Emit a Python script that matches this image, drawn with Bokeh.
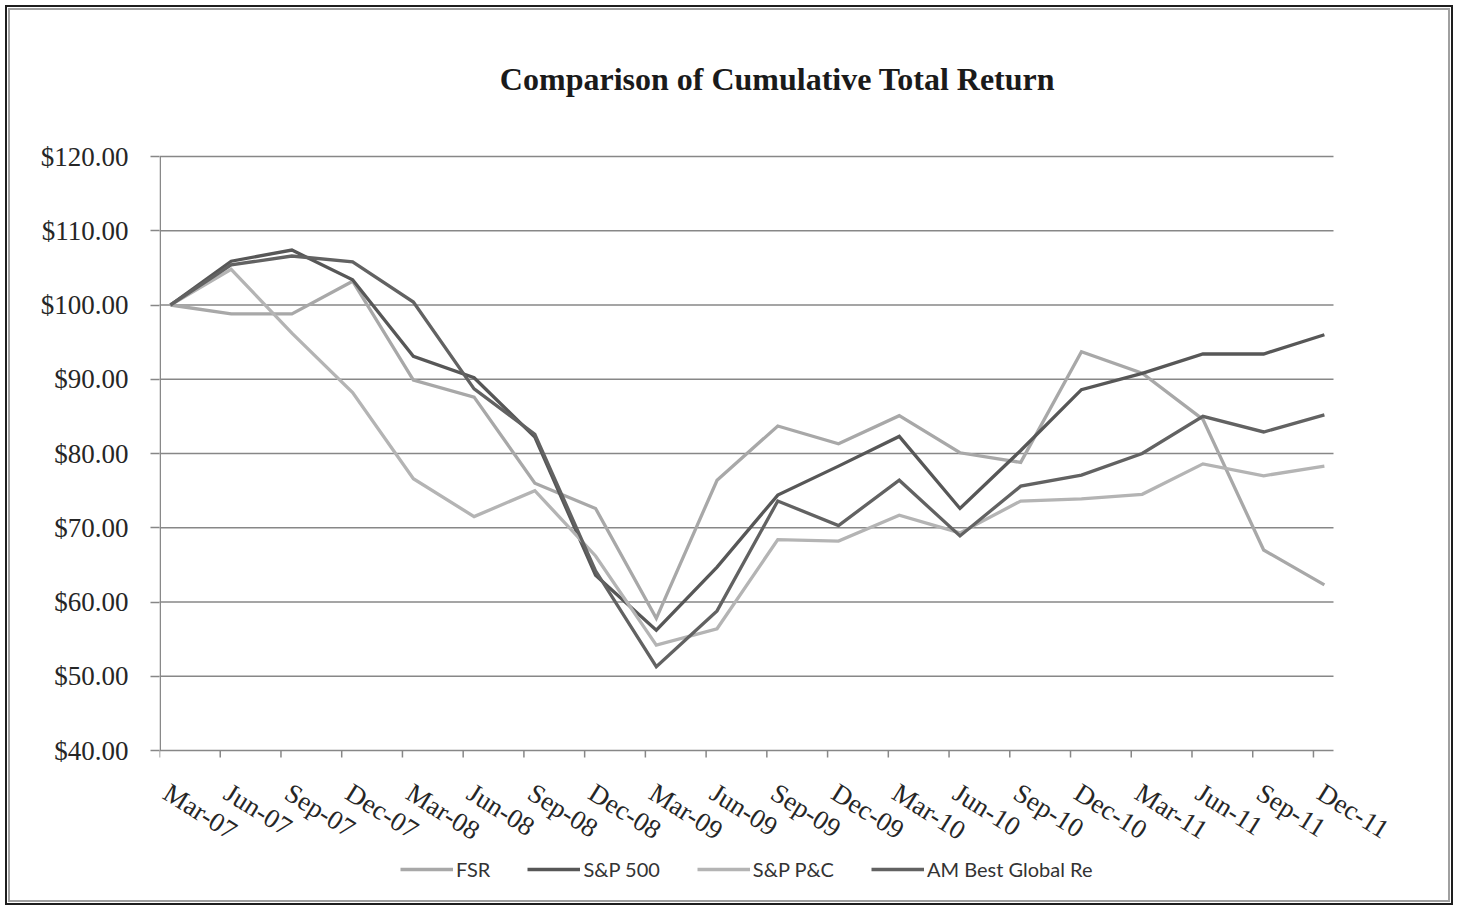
from bokeh.plotting import figure
from bokeh.models import (FixedTicker, Legend, LegendItem, Range1d, NumeralTickFormatter, Label)
from bokeh.core.properties import value
from bokeh.embed import file_html
from bokeh.resources import INLINE

quarters = ["Mar-07", "Jun-07", "Sep-07", "Dec-07", "Mar-08", "Jun-08", "Sep-08", "Dec-08",
            "Mar-09", "Jun-09", "Sep-09", "Dec-09", "Mar-10", "Jun-10", "Sep-10", "Dec-10",
            "Mar-11", "Jun-11", "Sep-11", "Dec-11"]
fsr = [100, 98.8, 98.8, 103.2, 89.9, 87.6, 76.0, 72.6, 57.8, 76.4, 83.7, 81.3, 85.1, 80.1,
       78.8, 93.7, 90.8, 84.6, 67.0, 62.3]
sp500 = [100, 105.9, 107.4, 103.4, 93.1, 90.2, 82.2, 63.6, 56.2, 64.7, 74.4, 78.3, 82.3, 72.6,
         80.4, 88.6, 90.8, 93.4, 93.4, 96.0]
sp_pc = [100, 104.8, 96.2, 88.2, 76.6, 71.5, 75.0, 66.2, 54.2, 56.4, 68.4, 68.2, 71.7, 69.3,
         73.6, 73.9, 74.5, 78.6, 77.0, 78.3]
ambest = [100, 105.4, 106.6, 105.8, 100.4, 88.7, 82.6, 64.2, 51.3, 58.8, 73.6, 70.3, 76.4, 68.9,
          75.6, 77.1, 80.0, 85.0, 82.9, 85.2]
series_names = ["FSR", "S&P 500", "S&P P&C", "AM Best Global Re"]
y_ticks = [40, 50, 60, 70, 80, 90, 100, 110, 120]
title_text = "Comparison of Cumulative Total Return"

series = [fsr, sp500, sp_pc, ambest]
colors = ["#a8a8a8", "#575757", "#b4b4b4", "#626262"]
n = len(quarters)

# layout constants (pixels)
PLOT_W_PX = 1174           # width of the gridded plot area
FRAME_W, FRAME_H = 1281, 890
PLOT_TOP_PX = 146          # from frame top to the top gridline
PLOT_H_PX = 594            # from top gridline to bottom gridline
X_UNITS = 19.33            # category units across the gridded area
POINT_OFFSET = 0.18        # points sit a little right of the tick marks
LABEL_OFFSET = 0.24
XPX = PLOT_W_PX / X_UNITS
y_lo, y_hi = y_ticks[0], y_ticks[-1]
PX = PLOT_H_PX / (y_hi - y_lo)
y_start = y_lo - (FRAME_H - PLOT_TOP_PX - PLOT_H_PX) / PX
y_end = y_hi + PLOT_TOP_PX / PX

xs = [i + POINT_OFFSET for i in range(n)]
tick_xs = list(range(n))
label_xs = [i + LABEL_OFFSET for i in range(n)]

GRID = "#878787"
TEXT = "#262626"
p = figure(frame_width=FRAME_W, frame_height=FRAME_H,
           min_border_left=149, min_border_right=8, min_border_top=0, min_border_bottom=0,
           x_range=Range1d(0, FRAME_W / XPX), y_range=Range1d(y_start, y_end),
           x_axis_location=None, output_backend="svg", toolbar_location=None,
           background_fill_color="white", border_fill_color="white")
p.outline_line_color = None
p.styles = {"margin": "8px 0 0 8px", "border": "2px solid #a0a0a0",
            "outline": "2px solid #1e1e1e", "outline-offset": "1px"}

# horizontal gridlines (the $40 one doubles as the category axis line)
p.xgrid.visible = False
p.ygrid.visible = False
k = len(y_ticks)
p.segment(x0=[0] * k, y0=y_ticks, x1=[X_UNITS] * k, y1=y_ticks, line_color=GRID, line_width=1.5)

# y axis
p.yaxis.ticker = FixedTicker(ticks=y_ticks)
p.yaxis.formatter = NumeralTickFormatter(format="$0.00")
p.yaxis.major_label_text_font = "Liberation Serif"
p.yaxis.major_label_text_font_size = "27px"
p.yaxis.major_label_text_color = TEXT
p.yaxis.major_label_standoff = 22
p.yaxis.axis_line_color = None
p.yaxis.major_tick_line_color = GRID
p.yaxis.major_tick_line_width = 1.5
p.yaxis.major_tick_out = 9
p.yaxis.major_tick_in = 0
p.yaxis.minor_tick_line_color = None
p.segment(x0=[0.012], y0=[y_lo], x1=[0.012], y1=[y_hi], line_color=GRID, line_width=1.5)

# category axis tick marks and rotated labels
p.segment(x0=tick_xs, y0=[y_lo] * n, x1=tick_xs, y1=[y_lo - 7 / PX] * n,
          line_color=GRID, line_width=1.5)
p.text(x=label_xs, y=[y_lo] * n, text=quarters, angle=-0.56,
       text_align="left", text_baseline="top", y_offset=27,
       text_font=value("Liberation Serif"), text_font_size=value("27px"), text_color=TEXT)

renderers = []
for vals, col in zip(series, colors):
    r = p.line(xs, vals, line_color=col, line_width=3.3, line_join="miter")
    renderers.append(r)

# title
p.add_layout(Label(x=(777 - 159) / XPX, y=y_hi + 78 / PX, text=title_text,
                   text_align="center", text_baseline="middle", text_font="Liberation Serif",
                   text_font_style="bold", text_font_size="32px", text_color="#1a1a1a"))

legend = Legend(items=[LegendItem(label=nm, renderers=[r]) for nm, r in zip(series_names, renderers)],
                orientation="horizontal", location=(241, 19),
                glyph_width=53, glyph_height=22, label_height=22, label_standoff=3, spacing=37,
                label_text_font="Lato", label_text_font_size="20px", label_text_color="#333333",
                border_line_color=None, background_fill_alpha=0, padding=0, margin=0)
p.add_layout(legend, "center")

open("out.html", "w").write(file_html(p, INLINE))
